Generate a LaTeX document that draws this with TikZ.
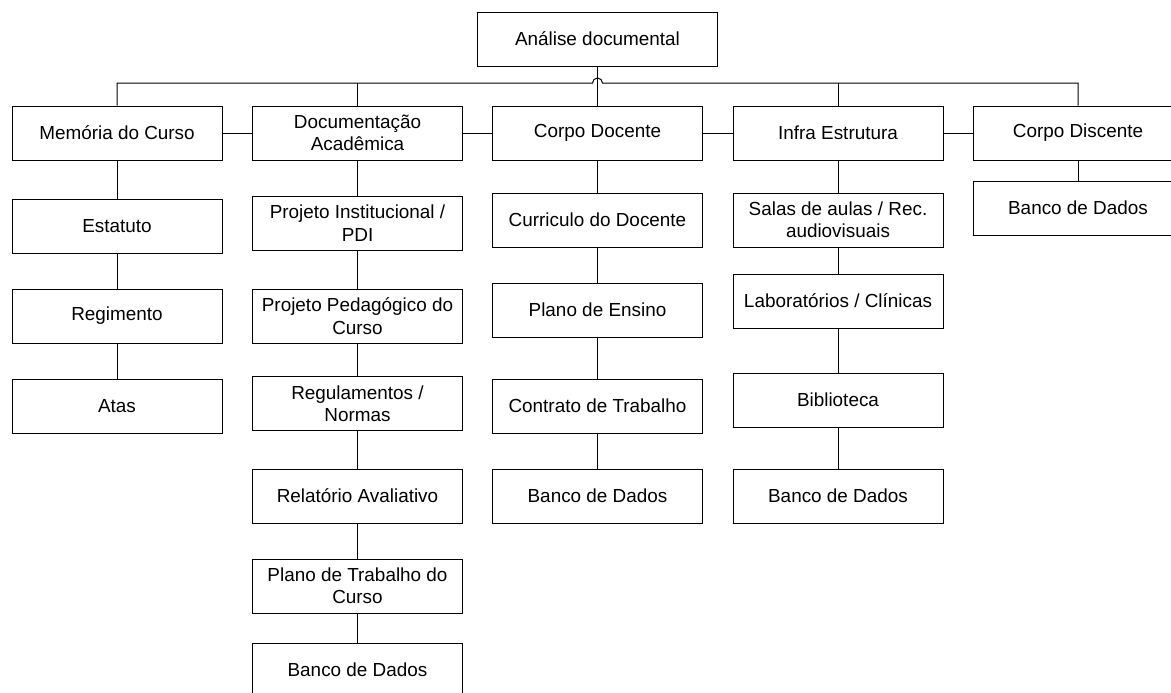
\documentclass[tikz,border=0pt]{standalone}
\usepackage{fontspec}
\setmainfont{Liberation Sans}

\begin{document}
\begin{tikzpicture}[x=0.5pt, y=-0.5pt, line width=0.5pt,
	caixa/.style={draw, minimum width=105pt, minimum height=27pt, inner sep=1pt, align=center, font=\fontsize{9.45}{11.2}\selectfont}]
\useasboundingbox (0,0) rectangle (1171,692);

\node[caixa, minimum width=120pt] (ana) at (597.5,39) {Análise documental};

% primeira linha
\node[caixa] (mem) at (117,133) {Memória do Curso};
\node[caixa] (doc) at (357.5,133) {Documentação\\Acadêmica};
\node[caixa] (cdo) at (597.5,133) {Corpo Docente};
\node[caixa] (inf) at (838,133) {Infra Estrutura};
\node[caixa] (cdi) at (1078,133) {Corpo Discente};

% colunas
\node[caixa] (mem1) at (117,226) {Estatuto};
\node[caixa] (mem2) at (117,316) {Regimento};
\node[caixa] (mem3) at (117,406) {Atas};

\node[caixa] (doc1) at (357.5,223) {Projeto Institucional /\\PDI};
\node[caixa] (doc2) at (357.5,316) {Projeto Pedagógico do\\Curso};
\node[caixa] (doc3) at (357.5,403.5) {Regulamentos /\\Normas};
\node[caixa] (doc4) at (357.5,496) {Relatório Avaliativo};
\node[caixa] (doc5) at (357.5,586) {Plano de Trabalho do\\Curso};
\node[caixa] (doc6) at (357.5,670) {Banco de Dados};

\node[caixa] (cdo1) at (597.5,220) {Curriculo do Docente};
\node[caixa] (cdo2) at (597.5,310) {Plano de Ensino};
\node[caixa] (cdo3) at (597.5,406) {Contrato de Trabalho};
\node[caixa] (cdo4) at (597.5,496) {Banco de Dados};

\node[caixa] (inf1) at (838,220) {Salas de aulas / Rec.\\audiovisuais};
\node[caixa] (inf2) at (838,301) {Laboratórios / Clínicas};
\node[caixa] (inf3) at (838,400) {Biblioteca};
\node[caixa] (inf4) at (838,496) {Banco de Dados};

\node[caixa] (cdi1) at (1078,208) {Banco de Dados};

% barramento com salto
\coordinate (busL) at (592.5,83);
\coordinate (busR) at (602.5,83);
\draw (mem.north) |- (busL) arc[start angle=180, end angle=0, radius=2.5pt] -- (busR) -| (cdi.north);
\draw (doc.north) -- (doc.north |- busL);
\draw (inf.north) -- (inf.north |- busL);
\draw (ana) -- (cdo);

\foreach \a/\b in {mem/doc, doc/cdo, cdo/inf, inf/cdi,
	mem/mem1, mem1/mem2, mem2/mem3,
	doc/doc1, doc1/doc2, doc2/doc3, doc3/doc4, doc4/doc5, doc5/doc6,
	cdo/cdo1, cdo1/cdo2, cdo2/cdo3, cdo3/cdo4,
	inf/inf1, inf1/inf2, inf2/inf3, inf3/inf4,
	cdi/cdi1}
	\draw (\a) -- (\b);

\end{tikzpicture}
\end{document}
